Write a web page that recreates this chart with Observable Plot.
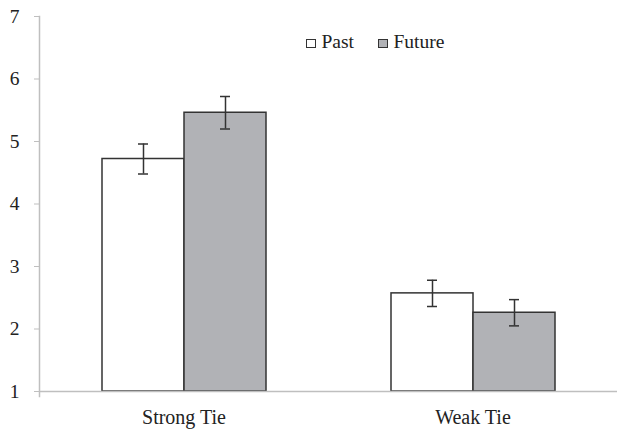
<!DOCTYPE html>
<html>
<head>
<meta charset="utf-8">
<script src="https://cdn.jsdelivr.net/npm/d3@7"></script>
<script src="https://cdn.jsdelivr.net/npm/@observablehq/plot@0.6"></script>
<style>
  html, body { margin: 0; padding: 0; background: #fff; }
  #wrap { position: relative; width: 617px; height: 429px; color: #222; }
  #legend { position: absolute; left: 306px; top: 32px; font-family: 'Liberation Serif'; font-size: 19.5px; line-height: 1; white-space: nowrap; color: #222; }
  .item { display: inline; margin-right: 24px; }
  .sw { display: inline-block; width: 7.5px; height: 7.5px; border: 1.3px solid #333; margin-right: 6px; vertical-align: baseline; }
</style>
</head>
<body>
<div id="wrap"><div id="legend"></div></div>
<script>
const categories = ["Strong Tie", "Weak Tie"];
const series = ["Past", "Future"];
const pastValues = [4.72, 2.57];
const futureValues = [5.46, 2.26];
const pastErrors = [0.24, 0.21];
const futureErrors = [0.26, 0.21];
const yTicks = [1, 2, 3, 4, 5, 6, 7];
const seriesColors = ["#ffffff", "#b1b2b6"];
const FONT = "Liberation Serif";

const data = [];
categories.forEach((c, i) => {
  data.push({cat: c, series: "Past", value: pastValues[i], err: pastErrors[i]});
  data.push({cat: c, series: "Future", value: futureValues[i], err: futureErrors[i]});
});

const chart = Plot.plot({
  width: 617,
  height: 429,
  marginLeft: 39,
  marginRight: 0,
  marginTop: 16,
  marginBottom: 38,
  style: {fontFamily: FONT, color: "#222", background: "#fff"},
  fx: {domain: categories, padding: 0, label: null},
  x: {domain: series, paddingInner: 0, paddingOuter: 0.75, axis: null},
  y: {domain: [1, 7], label: null},
  color: {domain: series, range: seriesColors},
  marks: [
    Plot.barY(data, {fx: "cat", x: "series", y1: 1, y2: "value", fill: "series", stroke: "#333", strokeWidth: 1.5}),
    Plot.ruleY([1], {stroke: "#bfbfbf", strokeWidth: 1.5}),
    Plot.ruleX(data, {fx: "cat", x: "series", y1: d => d.value - d.err, y2: d => d.value + d.err, stroke: "#333", strokeWidth: 1.5}),
    Plot.tickY(data, {fx: "cat", x: "series", y: d => d.value + d.err, stroke: "#333", strokeWidth: 1.5, insetLeft: 36, insetRight: 36}),
    Plot.tickY(data, {fx: "cat", x: "series", y: d => d.value - d.err, stroke: "#333", strokeWidth: 1.5, insetLeft: 36, insetRight: 36}),
    Plot.frame({anchor: "left", facetAnchor: "left", stroke: "#bfbfbf", strokeWidth: 1.5, insetBottom: -5}),
    Plot.axisY(yTicks, {anchor: "left", tickSize: 5, tickPadding: 15, fontSize: 19.5, fontFamily: FONT, stroke: "#bfbfbf", fill: "#222", tickFormat: d => String(d)}),
    Plot.axisFx({anchor: "bottom", tickSize: 0, tickPadding: 18, fontSize: 20, fontFamily: FONT, fill: "#222", label: null})
  ]
});
document.getElementById("wrap").prepend(chart);

const legend = document.getElementById("legend");
series.forEach((s, i) => {
  const item = document.createElement("span");
  item.className = "item";
  const sw = document.createElement("span");
  sw.className = "sw";
  sw.style.background = seriesColors[i];
  const t = document.createElement("span");
  t.textContent = s;
  item.appendChild(sw);
  item.appendChild(t);
  legend.appendChild(item);
});
</script>
</body>
</html>
